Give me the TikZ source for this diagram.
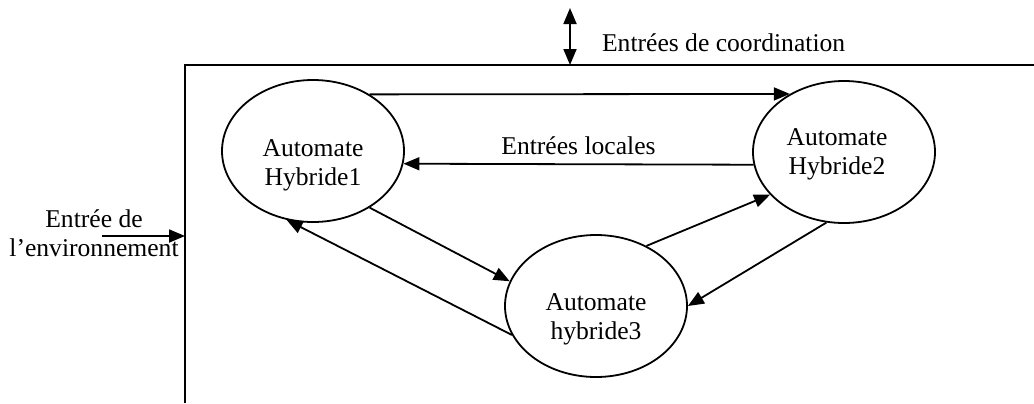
\documentclass[tikz,border=0pt]{standalone}
\usepackage{fontspec}
\setmainfont{Liberation Serif}
\usetikzlibrary{shapes.geometric,arrows.meta}

\tikzset{
  hyb/.style={ellipse, draw, line width=.9pt, minimum width=91pt, minimum height=71pt, inner sep=0pt},
  hybtext/.style={align=center, inner sep=0pt},
  tr/.style={line width=.9pt, -{Triangle[length=8pt,width=6.5pt]}}
}

\begin{document}
\begin{tikzpicture}[x=.5pt, y=-.5pt, font=\fontsize{12.8}{14.5}\selectfont]
		\useasboundingbox (0,0) rectangle (1034,403);
		% frame
		\draw[line width=1pt] (185,403) -- (185,65) -- (1034,65);
		% automates
		\node[hyb] (h1) at (313,151) {};
		\node[hyb] (h2) at (844,152) {};
		\node[hyb] (h3) at (596,306) {};
		\node[hybtext] (t1) at ([yshift=-7pt]h1.center) {Automate\\Hybride1};
		\node[hybtext] (t2) at ([xshift=-3.5pt,yshift=-1pt]h2.center) {Automate\\Hybride2};
		\node[hybtext] (t3) at ([yshift=-6.5pt]h3.center) {Automate\\hybride3};
		% arcs
		\draw[tr] (h1.45) -- (h2.133);
		\draw[tr] (h2.188) -- node[above=1pt] (loc) {Entrées locales} (h1.-8);
		\draw[tr] (h1.-45) -- (h3.164);
		\draw[tr] (h3.199) -- (h1.249);
		\draw[tr] (h3.50) -- (h2.210);
		\draw[tr] (h2.256) -- (h3.0);
		% inputs
		\coordinate (ctop) at (570,8);
		\coordinate (cbot) at (570,65);
		\draw[line width=.9pt, {Triangle[length=8pt,width=6.5pt]}-{Triangle[length=8pt,width=6.5pt]}] (ctop) -- (cbot);
		\node[anchor=west] (coord) at (595,43) {Entrées de coordination};
		\coordinate (estart) at (102,236);
		\coordinate (eend) at (185,236);
		\node[hybtext] (env) at (94,233) {Entrée de\\l’environnement};
		\draw[tr] (estart) -- (eend);
	\end{tikzpicture}
\end{document}
